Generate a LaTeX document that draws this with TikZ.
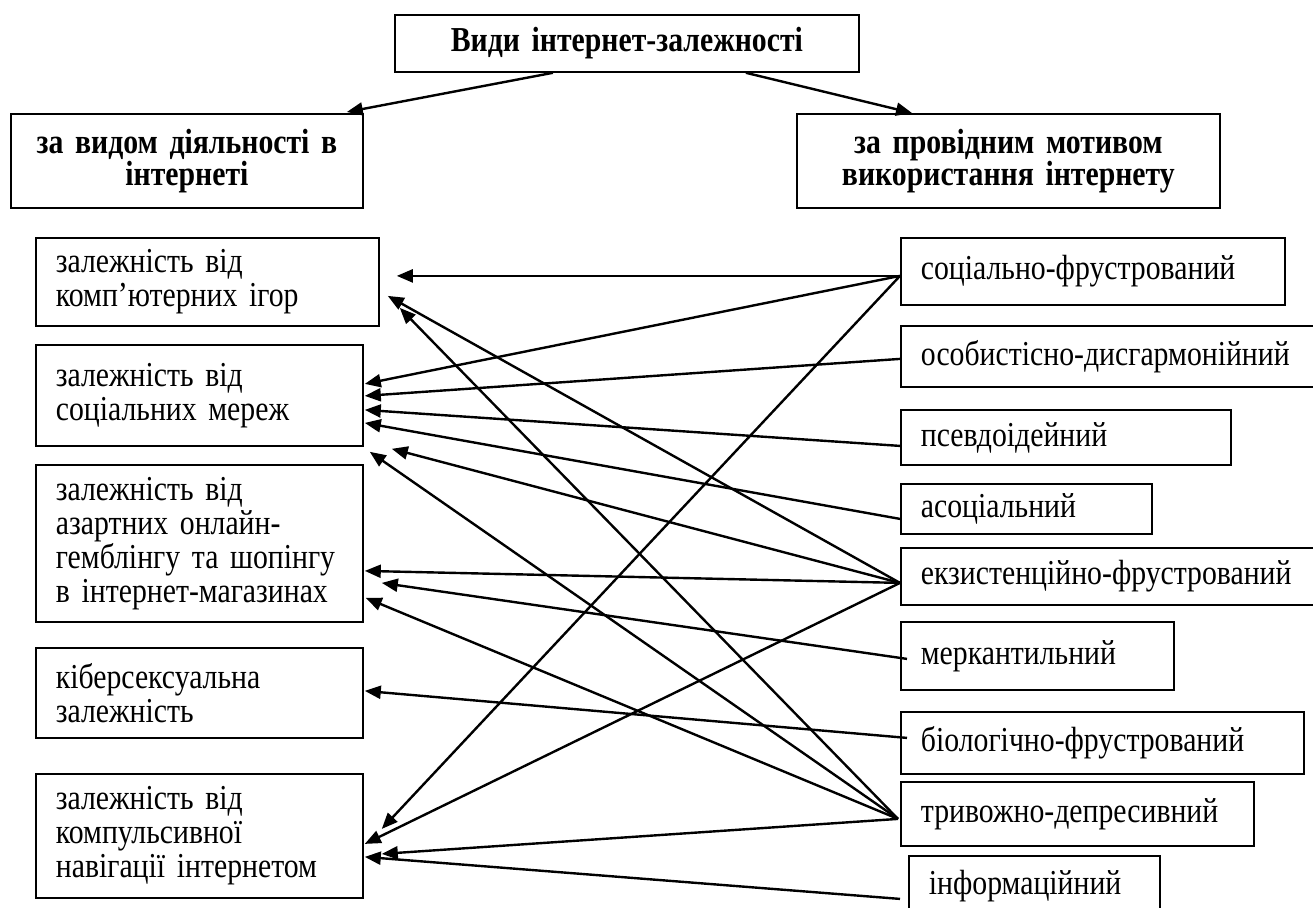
\documentclass[tikz,border=0pt]{standalone}
\usepackage{fontspec}
\setmainfont{Liberation Serif}[FakeStretch=0.85,WordSpace=0.8]
\usetikzlibrary{arrows.meta}
\begin{document}
\begin{tikzpicture}[x=1pt,y=-1pt,
  txt/.style={font=\fontsize{35}{34}\selectfont},
  ttl/.style={font=\bfseries\fontsize{35}{32}\selectfont},
  box/.style={draw, line width=1.8pt, anchor=north west, inner xsep=20pt, inner ysep=0pt, align=left},
  tbox/.style={draw, line width=1.8pt, anchor=north west, inner xsep=0pt, inner ysep=0pt, align=center},
  arr/.style={line width=2.4pt, -{Triangle[length=16pt,width=13pt]}}
]
\useasboundingbox (0,0) rectangle (1313,907);
\clip (0,0) rectangle (1313,907);
% top level
\node[tbox, ttl, text width=464pt, minimum height=57pt] (top) at (394,14) {Види інтернет-залежності};
\node[tbox, ttl, text width=352pt, minimum height=94pt] (L0) at (10,113) {за видом діяльності в\\інтернеті};
\node[tbox, ttl, text width=423pt, minimum height=94pt] (R0) at (796,113) {за провідним мотивом\\використання інтернету};
% left boxes
\node[box, txt, text width=303pt, minimum height=88pt] (B1) at (35,237) {залежність від\\комп’ютерних ігор};
\node[box, txt, text width=287pt, minimum height=101pt] (B2) at (35,344) {залежність від\\соціальних мереж};
\node[box, txt, text width=287pt, minimum height=157pt] (B3) at (35,464) {залежність від\\азартних онлайн-\\гемблінгу та шопінгу\\в інтернет-магазинах};
\node[box, txt, text width=287pt, minimum height=90pt] (B4) at (35,647) {кіберсексуальна\\залежність};
\node[box, txt, text width=287pt, minimum height=124pt] (B5) at (35,773) {залежність від\\компульсивної\\навігації інтернетом};
% right boxes
\node[box, txt, text width=344pt, minimum height=67pt] (S1) at (900,237) {соціально-фрустрований};
\node[box, txt, text width=380pt, minimum height=61pt] (S2) at (900,325) {особистісно-дисгармонійний};
\node[box, txt, text width=290pt, minimum height=55pt] (S3) at (900,409) {псевдоідейний};
\node[box, txt, text width=211pt, minimum height=50pt] (S4) at (900,483) {асоціальний};
\node[box, txt, text width=380pt, minimum height=57pt] (S5) at (900,547) {екзистенційно-фрустрований};
\node[box, txt, text width=233pt, minimum height=68pt] (S6) at (900,621) {меркантильний};
\node[box, txt, text width=363pt, minimum height=62pt] (S7) at (900,711) {біологічно-фрустрований};
\node[box, txt, text width=313pt, minimum height=64pt] (S8) at (900,781) {тривожно-депресивний};
\node[box, txt, text width=211pt, minimum height=60pt] (S9) at (908,855) {інформаційний};
% connectors
\draw[arr] ([xshift=-74pt]top.south) -- ([xshift=-17pt,yshift=1pt]L0.north east);
\draw[arr] ([xshift=119pt]top.south) -- ([xshift=116pt]R0.north west);
\draw[arr] ([yshift=-4.5pt]S1.west) -- ([xshift=17pt,yshift=6pt]B1.east);
\draw[arr] ([yshift=-4.5pt]S1.west) -- ([xshift=1pt,yshift=11.5pt]B2.east);
\draw[arr] ([yshift=-4.5pt]S1.west) -- ([xshift=18pt,yshift=7pt]B5.east);
\draw[arr] ([yshift=-2.5pt]S2.west) -- ([xshift=1pt,yshift=-0.5pt]B2.east);
\draw[arr] ([yshift=-8.5pt]S3.west) -- ([xshift=1pt,yshift=-14.5pt]B2.east);
\draw[arr] ([yshift=-10pt]S4.west) -- ([xshift=1pt,yshift=-27.5pt]B2.east);
\draw[arr] ([yshift=-6.5pt]S5.west) -- ([xshift=8pt,yshift=-14pt]B1.east);
\draw[arr] ([yshift=-6.5pt]S5.west) -- ([xshift=28pt,yshift=-2pt]B2.south east);
\draw[arr] ([yshift=-6.5pt]S5.west) -- ([xshift=1pt,yshift=-27.5pt]B3.east);
\draw[arr] ([yshift=-6.5pt]S5.west) -- ([xshift=1pt,yshift=-8pt]B5.east);
\draw[arr] ([xshift=7pt,yshift=-3pt]S6.west) -- ([xshift=18pt,yshift=-39.5pt]B3.east);
\draw[arr] ([xshift=7pt,yshift=5pt]S7.west) -- ([xshift=1pt,yshift=2pt]B4.east);
\draw[arr] ([xshift=-2pt,yshift=-5pt]S8.west) -- ([xshift=20pt,yshift=-26pt]B1.east);
\draw[arr] ([xshift=-2pt,yshift=-5pt]S8.west) -- ([xshift=6pt,yshift=-5pt]B2.south east);
\draw[arr] ([xshift=-2pt,yshift=-5pt]S8.west) -- ([xshift=2pt,yshift=-54.5pt]B3.east);
\draw[arr] ([xshift=-2pt,yshift=-5pt]S8.west) -- ([xshift=18pt,yshift=-18pt]B5.east);
\draw[arr] ([xshift=-8pt,yshift=-13pt]S9.west) -- ([xshift=1pt,yshift=-21pt]B5.east);
\end{tikzpicture}
\end{document}
